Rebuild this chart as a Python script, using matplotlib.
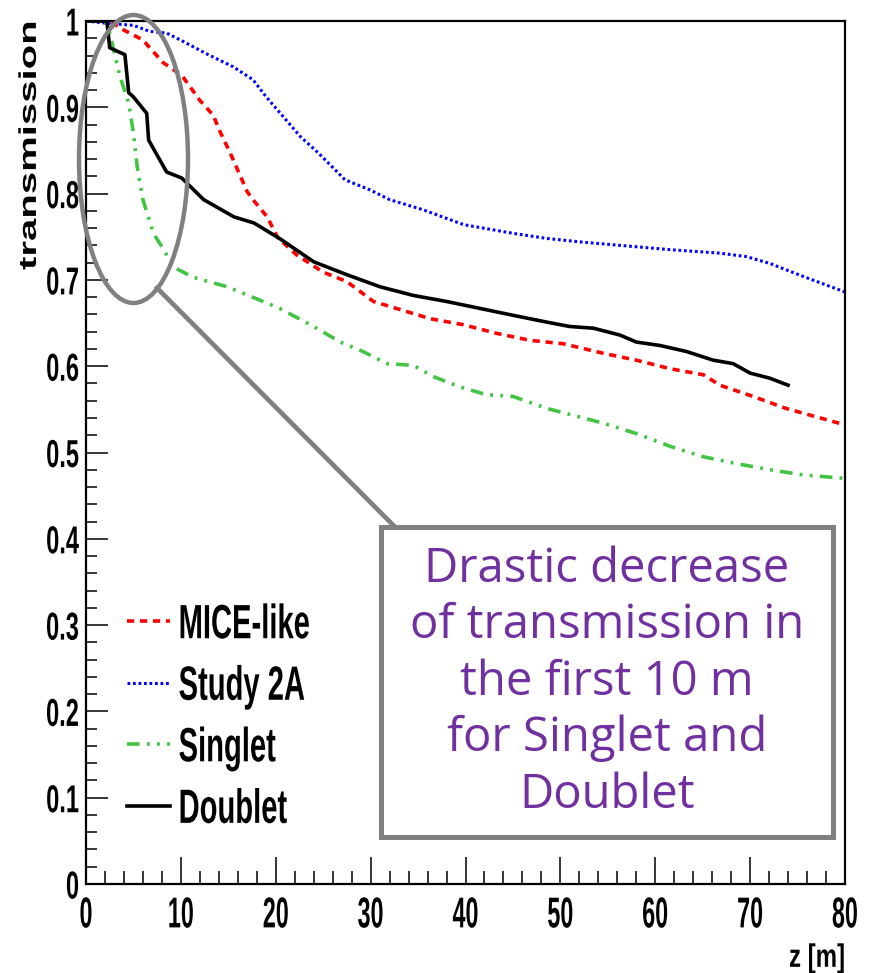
import matplotlib
matplotlib.use("Agg")
import matplotlib.pyplot as plt
from matplotlib.patches import Ellipse, Rectangle
from matplotlib.lines import Line2D
from matplotlib.ticker import MultipleLocator
from matplotlib.patheffects import AbstractPathEffect
from matplotlib.transforms import Affine2D

# ---------------- data ----------------
z_mice = [0, 2.5, 3.9, 6.0, 8.1, 10.1, 12.0, 13.4, 14.2, 15.2, 17.0, 17.6, 19.1, 20.2, 22.2,
          25.0, 27.5, 30.3, 32.7, 36.3, 39.8, 43.3, 46.8, 50.3, 54.5, 58.0, 61.6, 65.1, 66.8,
          70.3, 73.8, 77.4, 80.0]
t_mice = [1.0, 1.0, 0.99, 0.978, 0.952, 0.937, 0.908, 0.891, 0.87, 0.847, 0.802, 0.793, 0.773,
          0.749, 0.729, 0.709, 0.698, 0.675, 0.667, 0.655, 0.648, 0.638, 0.630, 0.626, 0.615,
          0.607, 0.597, 0.590, 0.578, 0.565, 0.551, 0.540, 0.532]

z_study = [0, 2.5, 5.0, 6.7, 8.5, 10.3, 12.7, 15.5, 17.6, 19.0, 20.8, 22.6, 24.5, 27.3, 30.0,
           32.0, 35.6, 39.8, 45.0, 48.6, 52.1, 56.3, 61.6, 66.8, 69.6, 72.1, 75.6, 80.0]
t_study = [1.0, 0.997, 0.995, 0.988, 0.986, 0.976, 0.962, 0.947, 0.932, 0.912, 0.889, 0.866,
           0.847, 0.816, 0.804, 0.793, 0.781, 0.764, 0.754, 0.748, 0.744, 0.740, 0.735, 0.731,
           0.727, 0.719, 0.704, 0.686]

z_singlet = [0, 2.0, 2.5, 3.1, 3.6, 4.5, 5.0, 5.4, 6.0, 7.1, 8.2, 9.2, 11.3, 14.9, 19.1, 20.4,
             24.0, 26.8, 29.2, 31.7, 34.5, 36.6, 39.4, 42.2, 45.0, 48.6, 52.1, 54.5, 58.0, 61.6,
             65.1, 68.6, 72.1, 75.6, 80.0]
t_singlet = [1.0, 1.0, 0.986, 0.958, 0.935, 0.905, 0.87, 0.831, 0.793, 0.754, 0.735, 0.715,
             0.703, 0.692, 0.673, 0.667, 0.646, 0.628, 0.617, 0.603, 0.601, 0.588, 0.576, 0.567,
             0.565, 0.551, 0.541, 0.534, 0.522, 0.507, 0.495, 0.487, 0.480, 0.474, 0.470]

z_doublet = [0, 2.2, 2.5, 4.1, 4.5, 5.0, 6.4, 6.6, 8.5, 10.1, 12.4, 15.6, 17.7, 20.4, 24.0, 27.5,
             31.0, 34.5, 38.0, 41.5, 45.0, 48.6, 51.0, 53.5, 56.3, 58.0, 60.5, 63.3, 66.1, 68.2,
             70.0, 72.1, 74.0]
t_doublet = [1.0, 1.0, 0.969, 0.961, 0.917, 0.912, 0.893, 0.862, 0.825, 0.818, 0.793, 0.773,
             0.766, 0.748, 0.721, 0.706, 0.692, 0.682, 0.675, 0.667, 0.659, 0.651, 0.646, 0.644,
             0.636, 0.628, 0.624, 0.617, 0.607, 0.603, 0.592, 0.586, 0.578]

labels = ["MICE-like", "Study 2A", "Singlet", "Doublet"]
x_ticks = [0, 10, 20, 30, 40, 50, 60, 70, 80]
x_ticklabels = ["0", "10", "20", "30", "40", "50", "60", "70", "80"]
y_ticks = [0, 0.1, 0.2, 0.3, 0.4, 0.5, 0.6, 0.7, 0.8, 0.9, 1.0]
y_ticklabels = ["0", "0.1", "0.2", "0.3", "0.4", "0.5", "0.6", "0.7", "0.8", "0.9", "1"]
note = "Drastic decrease\nof transmission in\nthe first 10 m\nfor Singlet and\nDoublet"


# ---------------- helpers ----------------
class Stretch(AbstractPathEffect):
    """Draw the text glyphs stretched (ROOT picture was stretched vertically)."""

    def __init__(self, sx=1.0, sy=1.0, x0=0.0, y0=0.0):
        super().__init__()
        self._pre = Affine2D().translate(-x0, -y0).scale(sx, sy).translate(x0, y0)

    def draw_path(self, renderer, gc, tpath, affine, rgbFace=None):
        renderer.draw_path(gc, tpath, self._pre + affine, rgbFace)


S = 1.65
FONT = ["Liberation Sans", "DejaVu Sans"]

W, H = 873, 973
fig = plt.figure(figsize=(W / 100, H / 100), dpi=100)
ax = fig.add_axes([86 / W, 1 - 884 / H, 759 / W, 863 / H])

ax.plot(z_mice, t_mice, color="#ff0000", lw=2.6, ls=(0, (2.0, 1.6)), label=labels[0])
ax.plot(z_study, t_study, color="#0000ff", lw=2.2, ls=(0, (0.9, 0.9)), label=labels[1])
ax.plot(z_singlet, t_singlet, color="#44c444", lw=2.6, ls=(0, (3.5, 2, 0.8, 2, 0.8, 2)),
        label=labels[2])
ax.plot(z_doublet, t_doublet, color="black", lw=2.6, label=labels[3])

ax.set_xlim(0, 80)
ax.set_ylim(0, 1)
ax.set_xticks(x_ticks)
ax.set_xticklabels(x_ticklabels, fontsize=16.8, fontweight="bold", family=FONT)
ax.set_yticks(y_ticks)
ax.set_yticklabels(y_ticklabels, fontsize=17, fontweight="bold", family=FONT)
ax.xaxis.set_minor_locator(MultipleLocator(2))
ax.yaxis.set_minor_locator(MultipleLocator(0.02))
ax.tick_params(axis="x", which="major", direction="in", length=19.5, width=1.1, pad=8)
ax.tick_params(axis="x", which="minor", direction="in", length=9.5, width=1.1)
ax.tick_params(axis="y", which="major", direction="in", length=16, width=1.1, pad=5)
ax.tick_params(axis="y", which="minor", direction="in", length=8, width=1.1)
for s in ax.spines.values():
    s.set_linewidth(1.6)

for t in ax.xaxis.get_major_ticks():
    t.label1.set_path_effects([Stretch(sy=1.85, y0=72)])
for t in ax.yaxis.get_major_ticks():
    t.label1.set_path_effects([Stretch(sy=S, y0=36)])

xl = ax.set_xlabel("z [m]", fontsize=17.3, fontweight="bold", family=FONT)
xl.set_ha("right")
xl.set_va("top")
ax.xaxis.set_label_coords(1.0, -0.068)
xl.set_path_effects([Stretch(sy=1.35, y0=73)])

yl = ax.set_ylabel("transmission", fontsize=17.5, fontweight="bold", family=FONT)
yl.set_ha("left")
yl.set_va("baseline")
ax.yaxis.set_label_coords(-0.066, 0.7115)
yl.set_path_effects([Stretch(sx=S, x0=0)])

leg = ax.legend(loc="center left", bbox_to_anchor=(0.054, 0.195), frameon=False,
                prop={"family": FONT, "weight": "bold", "size": 21},
                handlelength=1.47, handletextpad=0.3, labelspacing=1.15,
                borderpad=0, borderaxespad=0)
for t in leg.get_texts():
    t.set_path_effects([Stretch(sy=S, y0=36)])

# ---------------- annotation overlay (figure pixel space) ----------------
def fx(px):
    return px / W


def fy(py):
    return 1 - py / H


grey = "#808080"
ell = Ellipse((fx(133.5), fy(159)), 109 / W, 288 / H, transform=fig.transFigure,
              fill=False, edgecolor=grey, lw=3.2, zorder=10)
fig.patches.append(ell)
conn = Line2D([fx(157), fx(395)], [fy(288), fy(527)], transform=fig.transFigure,
              color=grey, lw=3.4, zorder=10)
fig.lines.append(conn)
box = Rectangle((fx(381), fy(837)), (833 - 381) / W, (837 - 527) / H,
                transform=fig.transFigure, facecolor="white", edgecolor=grey, lw=3.6,
                zorder=11)
fig.patches.append(box)
fig.text(fx(607), fy(682), note, ha="center", va="center", color="#7030a0",
         fontsize=34, family=["Open Sans", "DejaVu Sans"], linespacing=1.25,
         multialignment="center", zorder=12)

fig.savefig("out.png", dpi=100)
